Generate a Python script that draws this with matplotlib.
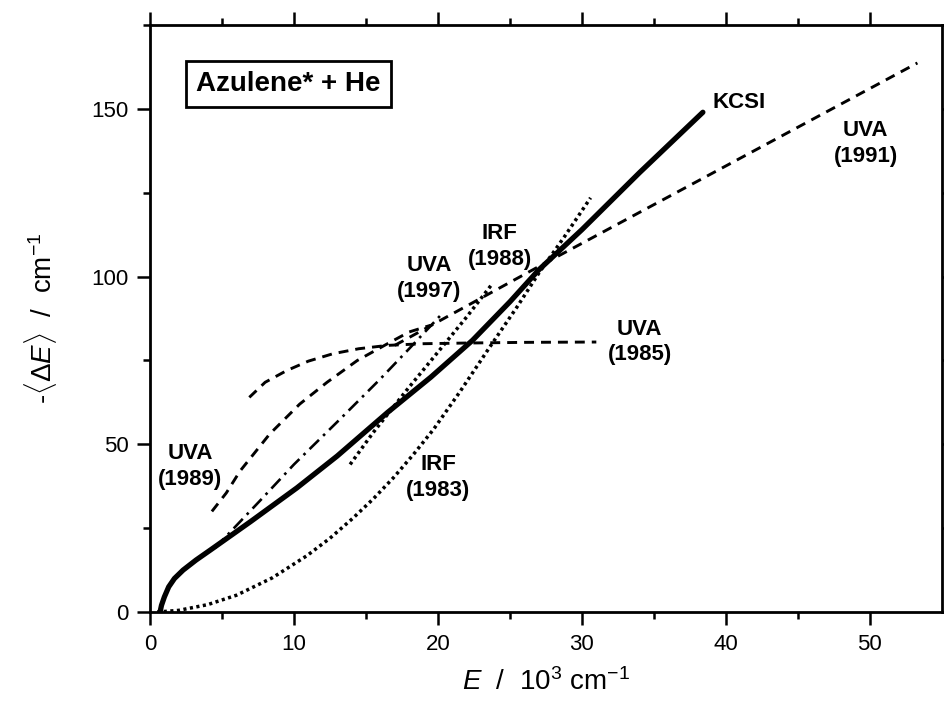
import numpy as np
import matplotlib
matplotlib.use("Agg")
import matplotlib.pyplot as plt

plt.rcParams['font.family'] = ['Liberation Sans', 'DejaVu Sans']
plt.rcParams['mathtext.fontset'] = 'custom'
plt.rcParams['mathtext.rm'] = 'Liberation Sans'
plt.rcParams['mathtext.it'] = 'Liberation Sans:italic'

# data, E in 10^3 cm^-1, -<dE> in cm^-1
kcsi_E = [0.7, 0.8, 1.0, 1.3, 1.7, 2.3, 3.2, 4.2, 7.0, 10.2, 13.0, 16.5, 19.5, 22.4, 25.0, 27.0, 30.0, 34.0, 38.4]
kcsi_dE = [0, 2, 4.5, 7.5, 10, 12.5, 15.5, 18.5, 27, 37, 46.5, 59.5, 70, 81, 92.5, 102, 114, 131, 149]

irf83_E = [0.5, 2.0, 4.0, 6.0, 8.5, 10.9, 12.5, 14.1, 15.5, 16.9, 18.3, 19.7, 21.5, 23.6, 25.5, 27.0, 28.8, 30.6]
irf83_dE = [0, 0.5, 2.2, 5.0, 10.2, 16.8, 22, 28, 33.7, 40, 47, 54.5, 65.5, 79, 91, 101, 112, 123.5]

irf88_E = [13.9, 15.5, 17.8, 20.0, 22.0, 23.8]
irf88_dE = [44, 53.5, 66, 77.5, 88, 98]

uva85_E = [6.9, 8.0, 9.5, 11.0, 12.7, 14.5, 16.5, 19.0, 22.0, 26.0, 31.0]
uva85_dE = [64, 68.5, 72, 74.8, 77, 78.5, 79.5, 80, 80.2, 80.4, 80.5]

uva89_E = [4.3, 5.3, 6.25, 8.3, 10.4, 12.3, 14.4, 16.5, 18.0, 19.5]
uva89_dE = [30, 35.5, 42, 53, 62, 68.5, 75, 80, 83.5, 85.5]

uva91_E = [17.0, 27.0, 53.3]
uva91_dE = [79.5, 103, 163.7]

uva97_E = [4.5, 7.6, 10.0, 13.2, 16.0, 18.0, 20.3]
uva97_dE = [19, 33, 44, 57.5, 69.5, 78.5, 89]

fig = plt.figure(figsize=(9.45, 7.06), dpi=100)
ax = fig.add_axes([0.1587, 0.1331, 0.838, 0.8314])

ax.plot(kcsi_E, kcsi_dE, color='black', lw=3.8, solid_capstyle='round', solid_joinstyle='round')
ax.plot(irf83_E, irf83_dE, color='black', lw=2.5, dashes=(0.9, 1.0))
ax.plot(irf88_E, irf88_dE, color='black', lw=2.5, dashes=(0.9, 1.0))
ax.plot(uva85_E, uva85_dE, color='black', lw=2.1, dashes=(3.4, 2.4))
ax.plot(uva89_E, uva89_dE, color='black', lw=2.1, dashes=(3.4, 2.4))
ax.plot(uva91_E, uva91_dE, color='black', lw=2.1, dashes=(3.4, 2.4))
ax.plot(uva97_E, uva97_dE, color='black', lw=1.9, dashes=(5, 2.2, 1, 2.2))

lab = dict(fontsize=16, fontweight='bold', ha='center', va='center', linespacing=1.3)
ax.text(39.1, 151.8, 'KCSI', fontsize=16, fontweight='bold', ha='left', va='center')
ax.text(49.7, 139.7, 'UVA\n(1991)', **lab)
ax.text(24.3, 108.9, 'IRF\n(1988)', **lab)
ax.text(19.4, 99.5, 'UVA\n(1997)', **lab)
ax.text(34.0, 80.5, 'UVA\n(1985)', **lab)
ax.text(2.8, 43.5, 'UVA\n(1989)', **lab)
ax.text(20.0, 40.0, 'IRF\n(1983)', **lab)

ax.text(3.2, 157.5, 'Azulene* + He', fontsize=20, fontweight='bold', ha='left', va='center',
        bbox=dict(boxstyle='square,pad=0.36', facecolor='white', edgecolor='black', lw=2.0))

ax.set_xlim(0, 55)
ax.set_ylim(0, 175)
ax.set_xticks([0, 10, 20, 30, 40, 50])
ax.set_xticks(np.arange(5, 55, 10), minor=True)
ax.set_yticks([0, 50, 100, 150])
ax.set_yticks([25, 75, 125, 175], minor=True)

for s in ax.spines.values():
    s.set_linewidth(2.0)
ax.tick_params(which='both', direction='out', top=True, right=True, width=1.8, labelsize=16, pad=6)
ax.tick_params(which='major', length=9.5)
ax.tick_params(which='minor', length=5)

ax.set_xlabel(r'$E$  /  10$^3$ cm$^{-1}$', fontsize=20, labelpad=10)
ax.set_ylabel(r'-$\langle\Delta\mathit{E}\rangle$  /  cm$^{-1}$', fontsize=20, labelpad=23)

fig.savefig('out.png', dpi=100)
